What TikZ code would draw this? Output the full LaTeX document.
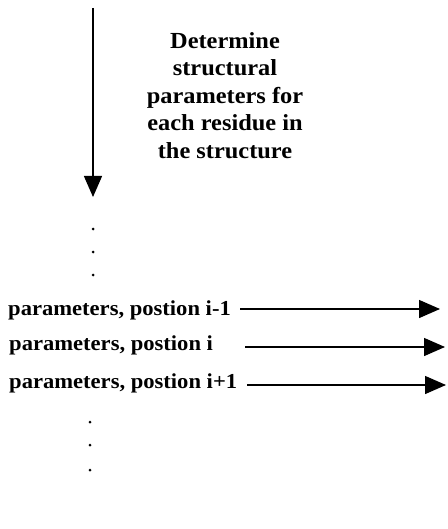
\documentclass[tikz,border=0pt]{standalone}
\usepackage{fontspec}
\setmainfont{Liberation Serif}[FakeStretch=1.06]
\usetikzlibrary{arrows.meta}
\tikzset{
  flow/.style={line width=1.4pt,-{Triangle[length=21pt,width=18pt]}},
  rowlabel/.style={anchor=base west,inner sep=0pt,font=\fontsize{21.3}{24}\selectfont\bfseries},
  blocklabel/.style={anchor=north,inner sep=0pt,align=center,font=\fontsize{23}{27.6}\selectfont\bfseries},
  dotmark/.style={fill=black,inner sep=0pt,minimum size=3pt,circle}
}
\begin{document}
\begin{tikzpicture}[x=1pt,y=-1pt]
\useasboundingbox (0,0) rectangle (447,529);
% vertical arrow
\coordinate (vtop) at (93,8);
\coordinate (vbot) at (93,197);
\draw[flow] (vtop) -- (vbot);
\node[blocklabel] (desc) at (225,32) {Determine\\structural\\parameters for\\each residue in\\ the structure};
% dots above
\node[dotmark] (d1) at (93,229) {};
\node[dotmark] (d2) at (93,252) {};
\node[dotmark] (d3) at (93,275) {};
% rows
\node[rowlabel] (r1) at (8,315) {parameters, postion i-1};
\node[rowlabel] (r2) at (9,350) {parameters, postion i};
\node[rowlabel] (r3) at (9,388) {parameters, postion i+1};
\coordinate (s1) at (240,309);
\coordinate (e1) at (440,309);
\coordinate (s2) at (245,347);
\coordinate (e2) at (445,347);
\coordinate (s3) at (247,385);
\coordinate (e3) at (446,385);
\draw[flow] (s1) -- (e1);
\draw[flow] (s2) -- (e2);
\draw[flow] (s3) -- (e3);
% dots below
\node[dotmark] (d4) at (90,422) {};
\node[dotmark] (d5) at (90,445) {};
\node[dotmark] (d6) at (90,470) {};
\end{tikzpicture}
\end{document}
